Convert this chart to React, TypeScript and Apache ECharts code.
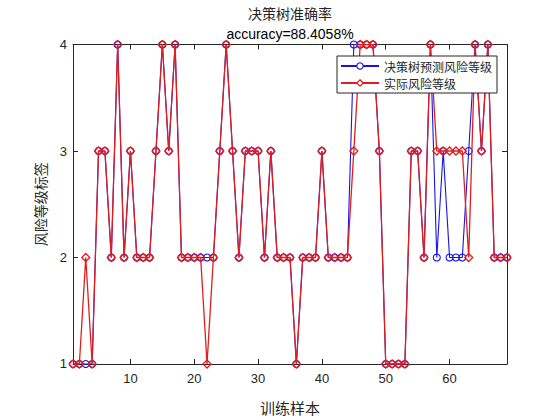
import React, { useEffect, useRef } from "react";
import * as echarts from "echarts";

const titleText = "决策树准确率";
const accuracyText = "accuracy=88.4058%";
const seriesNames = ["决策树预测风险等级", "实际风险等级"];
const xTicks = [10, 20, 30, 40, 50, 60];

const actual = [
  1, 1, 2, 1, 3, 3, 2, 4, 2, 3,
  2, 2, 2, 3, 4, 3, 4, 2, 2, 2,
  2, 1, 2, 3, 4, 3, 2, 3, 3, 3,
  2, 3, 2, 2, 2, 1, 2, 2, 2, 3,
  2, 2, 2, 2, 3, 4, 4, 4, 3, 1,
  1, 1, 1, 3, 3, 2, 4, 3, 3, 3,
  3, 3, 2, 4, 3, 4, 2, 2, 2,
];

const predicted = [
  1, 1, 1, 1, 3, 3, 2, 4, 2, 3,
  2, 2, 2, 3, 4, 3, 4, 2, 2, 2,
  2, 2, 2, 3, 4, 3, 2, 3, 3, 3,
  2, 3, 2, 2, 2, 1, 2, 2, 2, 3,
  2, 2, 2, 2, 4, 4, 4, 4, 3, 1,
  1, 1, 1, 3, 3, 2, 4, 2, 3, 2,
  2, 2, 3, 4, 3, 4, 2, 2, 2,
];

const TEXT = "#262626";
const BLUE = "#1414e6";
const RED = "#e01e1e";
const CJK = '"Noto Sans CJK SC", sans-serif';
const SANS = '"Liberation Sans", Arial, sans-serif';

export default function App() {
  const ref = useRef<HTMLDivElement>(null);
  useEffect(() => {
    if (!ref.current) return;
    const chart = echarts.init(ref.current, null, { renderer: "svg" });
    const predData = predicted.map((v, i) => [i + 1, v]);
    const actData = actual.map((v, i) => [i + 1, v]);
    const axisCommon = {
      axisLine: { show: true, onZero: false, lineStyle: { color: TEXT, width: 1 } },
      splitLine: { show: false },
    };
    chart.setOption({
      animation: false,
      backgroundColor: "#ffffff",
      grid: { left: 73, right: 53, top: 44.5, bottom: 47, containLabel: false },
      graphic: [
        {
          type: "text",
          x: 290,
          y: 13,
          style: {
            text: titleText,
            font: `14px ${CJK}`,
            fill: TEXT,
            textAlign: "center",
            textVerticalAlign: "middle",
          },
        },
        {
          type: "text",
          x: 290,
          y: 34,
          style: {
            text: accuracyText,
            font: `14px ${SANS}`,
            fill: "#000",
            textAlign: "center",
            textVerticalAlign: "middle",
          },
        },
      ],
      legend: {
        orient: "vertical",
        left: 337,
        top: 56,
        padding: [3, 5, 3, 3],
        itemGap: 3,
        itemWidth: 38,
        itemHeight: 8,
        backgroundColor: "#ffffff",
        borderColor: TEXT,
        borderWidth: 1,
        borderRadius: 0,
        textStyle: { fontFamily: CJK, fontSize: 12, color: TEXT, lineHeight: 14 },
        data: [
          {
            name: seriesNames[0],
            itemStyle: { color: "#ffffff", borderColor: BLUE, borderWidth: 1.1 },
          },
          {
            name: seriesNames[1],
            itemStyle: { color: "#ffffff", borderColor: RED, borderWidth: 1.3 },
          },
        ],
      },
      xAxis: [
        {
          type: "value",
          min: 1,
          max: 69,
          position: "bottom",
          ...axisCommon,
          axisTick: { show: true, inside: true, length: 5, customValues: xTicks, lineStyle: { color: TEXT } },
          axisLabel: { show: true, customValues: xTicks, color: TEXT, fontFamily: SANS, fontSize: 13, margin: 8 },
          name: "训练样本",
          nameLocation: "middle",
          nameGap: 36,
          nameTextStyle: { fontFamily: CJK, fontSize: 15, color: TEXT },
        },
        {
          type: "value",
          min: 1,
          max: 69,
          position: "top",
          ...axisCommon,
          axisTick: { show: true, inside: true, length: 5, customValues: xTicks, lineStyle: { color: TEXT } },
          axisLabel: { show: false },
        },
      ],
      yAxis: [
        {
          type: "value",
          min: 1,
          max: 4,
          interval: 1,
          position: "left",
          ...axisCommon,
          axisTick: { show: true, inside: true, length: 5, lineStyle: { color: TEXT } },
          axisLabel: { show: true, color: TEXT, fontFamily: SANS, fontSize: 13, margin: 6 },
          name: "风险等级标签",
          nameLocation: "middle",
          nameGap: 26,
          nameTextStyle: { fontFamily: CJK, fontSize: 14, color: TEXT },
        },
        {
          type: "value",
          min: 1,
          max: 4,
          interval: 1,
          position: "right",
          ...axisCommon,
          axisTick: { show: true, inside: true, length: 5, lineStyle: { color: TEXT } },
          axisLabel: { show: false },
        },
      ],
      series: [
        {
          name: seriesNames[0],
          type: "line",
          data: predData,
          xAxisIndex: 0,
          yAxisIndex: 0,
          symbol: "circle",
          symbolSize: 7,
          showAllSymbol: true,
          color: BLUE,
          lineStyle: { color: BLUE, width: 1.1 },
          itemStyle: { color: "rgba(255,255,255,0)", borderColor: BLUE, borderWidth: 1.1 },
          z: 2,
        },
        {
          name: seriesNames[1],
          type: "line",
          data: actData,
          xAxisIndex: 0,
          yAxisIndex: 0,
          symbol: "diamond",
          symbolSize: 8,
          showAllSymbol: true,
          color: RED,
          lineStyle: { color: RED, width: 1.3 },
          itemStyle: { color: "rgba(255,255,255,0)", borderColor: RED, borderWidth: 1.3 },
          z: 3,
        },
      ],
    });
    return () => chart.dispose();
  }, []);
  return (
    <div
      ref={ref}
      style={{ position: "fixed", left: 0, top: 0, width: 560, height: 420, background: "#fff" }}
    />
  );
}
